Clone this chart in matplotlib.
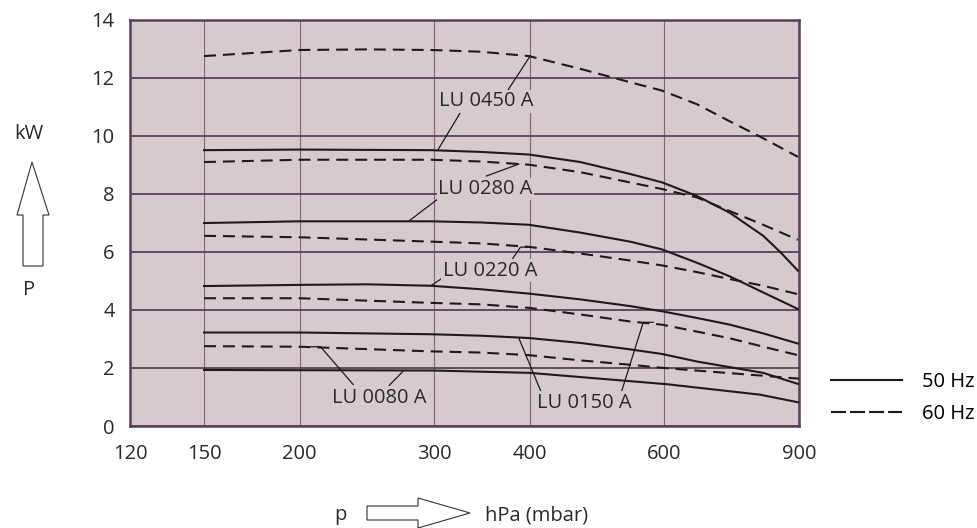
import matplotlib
matplotlib.use('Agg')
import matplotlib.pyplot as plt
from matplotlib.lines import Line2D
from matplotlib.patches import Polygon
from matplotlib.ticker import NullLocator

plt.rcParams['font.family'] = ['Open Sans', 'DejaVu Sans']
plt.rcParams['lines.scale_dashes'] = False

# pressure p [hPa] and power P [kW]
p_0450_60 = [150, 200, 245, 297, 345, 399, 466, 541, 596, 662, 731, 808, 897]
kw_0450_60 = [12.74, 12.95, 12.97, 12.95, 12.89, 12.74, 12.3, 11.84, 11.55, 11.08, 10.49, 9.91, 9.27]
p_0450_50 = [150, 200, 297, 345, 399, 466, 541, 596, 662, 731, 808, 850, 897]
kw_0450_50 = [9.5, 9.52, 9.5, 9.44, 9.35, 9.09, 8.68, 8.39, 7.92, 7.34, 6.55, 6.0, 5.35]

p_0280_60 = [150, 200, 297, 345, 399, 466, 541, 596, 662, 731, 808, 897]
kw_0280_60 = [9.09, 9.17, 9.17, 9.11, 9.0, 8.74, 8.39, 8.16, 7.87, 7.4, 6.93, 6.41]
p_0280_50 = [150, 200, 297, 345, 399, 466, 541, 596, 662, 731, 808, 897]
kw_0280_50 = [6.99, 7.05, 7.05, 7.01, 6.93, 6.66, 6.35, 6.08, 5.62, 5.15, 4.6, 4.03]

p_0220_60 = [150, 200, 297, 345, 399, 466, 541, 596, 662, 731, 808, 897]
kw_0220_60 = [6.55, 6.5, 6.35, 6.29, 6.17, 5.94, 5.7, 5.53, 5.3, 5.06, 4.83, 4.54]
p_0220_50 = [150, 200, 245, 297, 345, 399, 466, 541, 596, 662, 731, 808, 897]
kw_0220_50 = [4.82, 4.86, 4.88, 4.83, 4.71, 4.56, 4.36, 4.13, 3.95, 3.72, 3.49, 3.19, 2.84]

p_0150_60 = [150, 200, 297, 345, 399, 466, 541, 596, 662, 731, 808, 897]
kw_0150_60 = [4.4, 4.4, 4.24, 4.19, 4.07, 3.84, 3.6, 3.49, 3.25, 3.02, 2.73, 2.44]
p_0150_50 = [150, 200, 297, 345, 399, 466, 541, 596, 662, 808, 897]
kw_0150_50 = [3.22, 3.22, 3.16, 3.11, 3.03, 2.86, 2.64, 2.48, 2.22, 1.83, 1.45]

p_0080_60 = [150, 200, 297, 345, 399, 466, 541, 604, 800, 900]
kw_0080_60 = [2.75, 2.73, 2.57, 2.53, 2.44, 2.26, 2.11, 1.99, 1.74, 1.63]
p_0080_50 = [150, 300, 400, 604, 800, 900]
kw_0080_50 = [1.93, 1.91, 1.83, 1.44, 1.08, 0.81]

x_ticks = [120, 150, 200, 300, 400, 600, 900]
y_ticks = [0, 2, 4, 6, 8, 10, 12, 14]

# model labels and their leader lines (data coords)
labels = ['LU 0450 A', 'LU 0280 A', 'LU 0220 A', 'LU 0150 A', 'LU 0080 A']
label_pos = [(351, 11.19), (350, 8.16), (355, 5.35), (472, 0.80), (254, 0.97)]
leaders = [
    [[(375, 11.59), (400, 12.72)], [(325, 10.82), (303, 9.49)]],
    [[(351, 8.61), (387, 9.02)], [(303, 7.81), (278, 7.06)]],
    [[(380, 5.77), (389, 6.16), (399, 6.16)], [(308, 5.11), (297, 4.83)]],
    [[(417, 0.97), (387, 3.03)], [(525, 1.02), (563, 3.57), (580, 3.57)]],
    [[(235, 1.43), (213, 2.73), (207, 2.73)], [(262, 1.40), (273, 1.88)]],
]

BG = '#d5cbcd'
FRAME = '#5b3f59'
VGRID = '#7e6479'
INK = '#1c1a1b'
TXT = '#2a2a2a'
FS = 14.5
DASH = (0, (8.6, 5.0))

fig = plt.figure(figsize=(9.78, 5.28), dpi=100)
ax = fig.add_axes([130 / 978, 1 - 426 / 528, 669 / 978, (426 - 19.5) / 528])
ax.set_facecolor(BG)

curves = [
    (p_0450_60, kw_0450_60, DASH), (p_0450_50, kw_0450_50, '-'),
    (p_0280_60, kw_0280_60, DASH), (p_0280_50, kw_0280_50, '-'),
    (p_0220_60, kw_0220_60, DASH), (p_0220_50, kw_0220_50, '-'),
    (p_0150_60, kw_0150_60, DASH), (p_0150_50, kw_0150_50, '-'),
    (p_0080_60, kw_0080_60, DASH), (p_0080_50, kw_0080_50, '-'),
]
for p, kw, ls in curves:
    ax.plot(p, kw, color=INK, lw=1.5, linestyle=ls, zorder=3)

for text, (tx, ty), lines in zip(labels, label_pos, leaders):
    ax.text(tx, ty, text, ha='center', va='center', fontsize=FS, color=TXT,
            zorder=5, bbox=dict(facecolor=BG, edgecolor='none', pad=1.0))
    for seg in lines:
        ax.plot([s[0] for s in seg], [s[1] for s in seg], color=INK, lw=0.9, zorder=4)

ax.set_xscale('log')
ax.set_xlim(120, 900)
ax.set_ylim(0, 14)
ax.set_xticks(x_ticks)
ax.set_xticklabels([str(v) for v in x_ticks])
ax.xaxis.set_minor_locator(NullLocator())
ax.set_yticks(y_ticks)
ax.tick_params(length=0, labelsize=FS, colors=TXT)
ax.tick_params(axis='x', pad=13)
ax.tick_params(axis='y', pad=11)

ax.grid(axis='y', color=FRAME, lw=1.3, zorder=1)
ax.grid(axis='x', color=VGRID, lw=0.8, zorder=1)
ax.set_axisbelow(True)
for s in ax.spines.values():
    s.set_color(FRAME)
    s.set_linewidth(1.8)

# legend
handles = [Line2D([], [], color=INK, lw=1.5),
           Line2D([], [], color=INK, lw=1.5, linestyle=(0, (10.8, 2.9)))]
fig.legend(handles, ['50 Hz', '60 Hz'], loc='center left',
           bbox_to_anchor=(831 / 978, 1 - 398 / 528), frameon=False,
           fontsize=FS, handlelength=3.55, handletextpad=0.95,
           labelspacing=0.6, borderpad=0, borderaxespad=0)

# axis names with outline arrows
def fx(px):
    return px / 978

def fy(py):
    return 1 - py / 528

fig.text(fx(29), fy(134), 'kW', ha='center', va='center', fontsize=FS, color=TXT)
fig.text(fx(29), fy(290), 'P', ha='center', va='center', fontsize=FS, color=TXT)
up = [(23, 266), (43, 266), (43, 215), (49, 215), (32, 162), (17, 215), (23, 215)]
fig.add_artist(Polygon([(fx(a), fy(b)) for a, b in up], closed=True, facecolor='white',
                       edgecolor='#333333', lw=0.8, transform=fig.transFigure))

fig.text(fx(340), fy(515), 'p', ha='center', va='center', fontsize=FS, color=TXT)
fig.text(fx(485), fy(515), 'hPa (mbar)', ha='left', va='center', fontsize=FS, color=TXT)
right = [(367, 506), (418, 506), (418, 498), (470, 513), (418, 528), (418, 520), (367, 520)]
fig.add_artist(Polygon([(fx(a), fy(b)) for a, b in right], closed=True, facecolor='white',
                       edgecolor='#333333', lw=0.8, transform=fig.transFigure))

fig.savefig('out.png', dpi=100)
